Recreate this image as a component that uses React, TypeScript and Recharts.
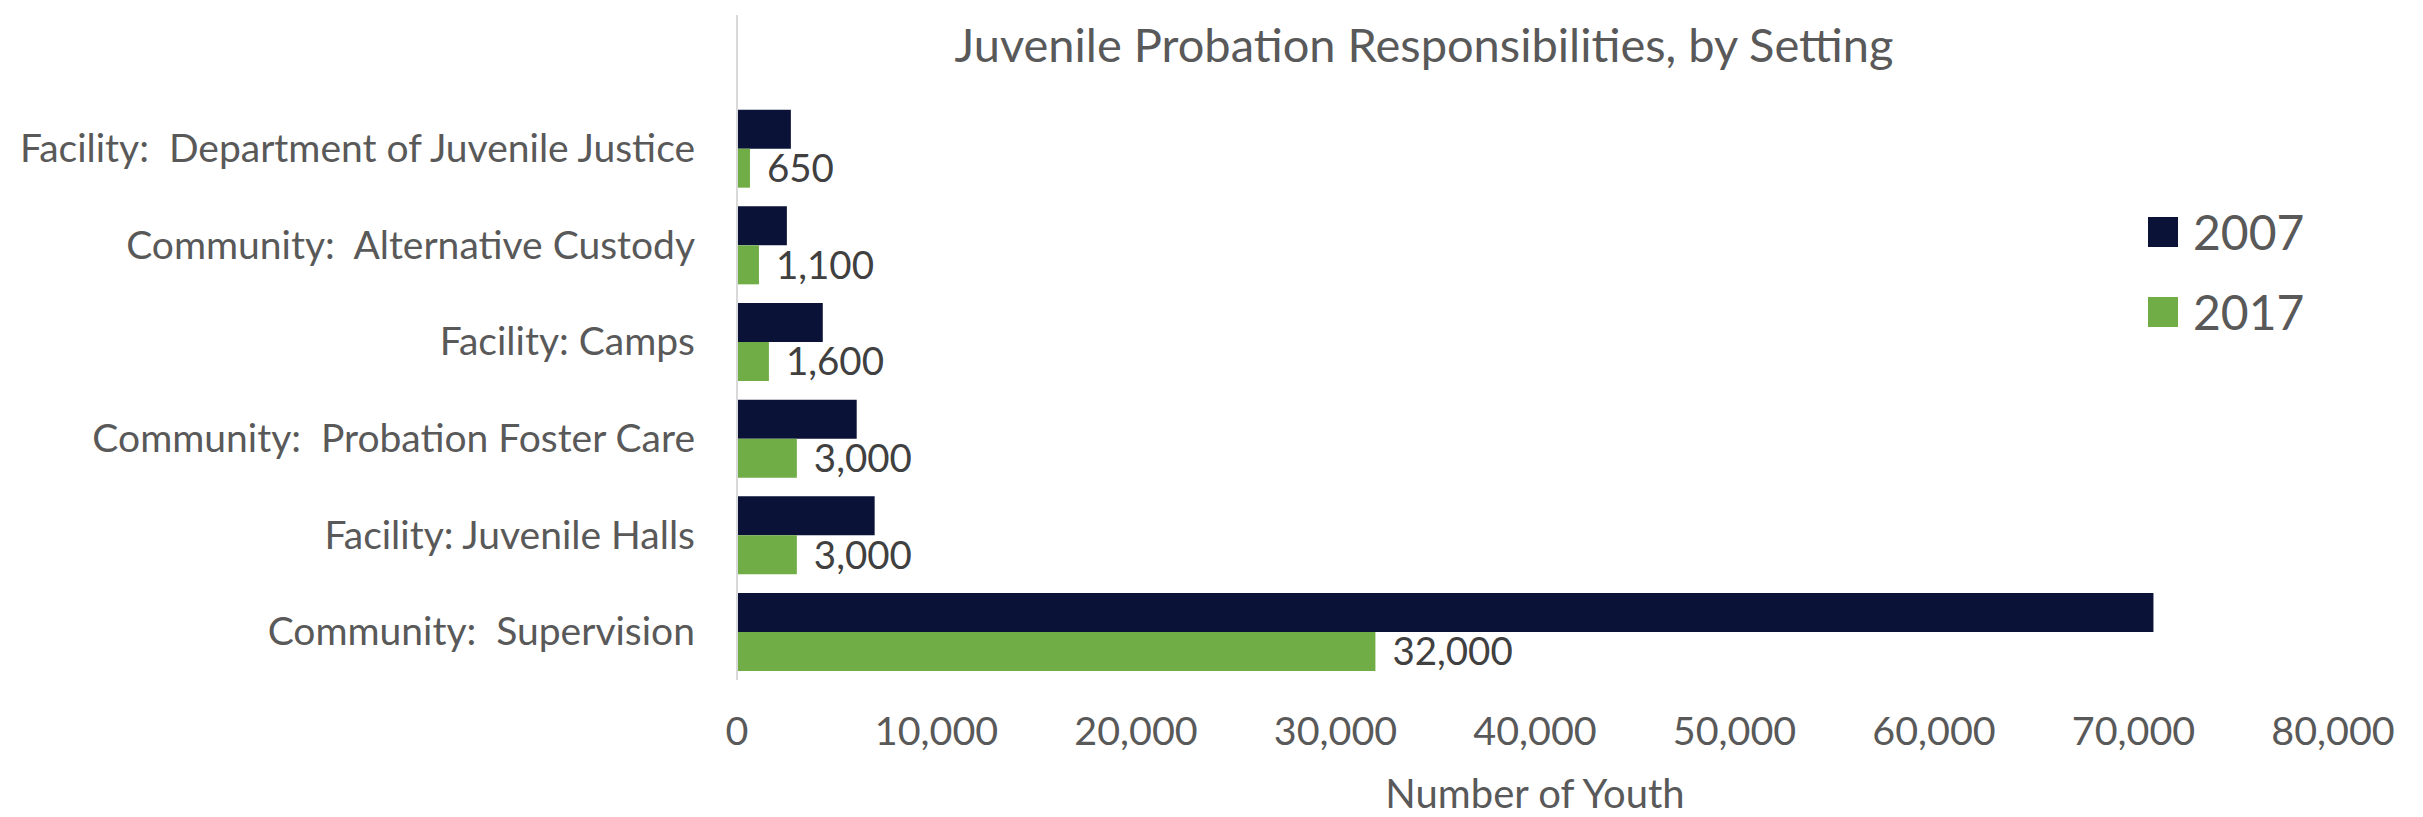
import React from "react";
import { BarChart, Bar, XAxis, YAxis, LabelList } from "recharts";

// values
const categories = [
  "Facility:  Department of Juvenile Justice",
  "Community:  Alternative Custody",
  "Facility: Camps",
  "Community:  Probation Foster Care",
  "Facility: Juvenile Halls",
  "Community:  Supervision",
];
const values2007 = [2700, 2500, 4300, 6000, 6900, 71000];
const values2017 = [650, 1100, 1600, 3000, 3000, 32000];
const xTicks = [0, 10000, 20000, 30000, 40000, 50000, 60000, 70000, 80000];

const series = [
  { key: "y2007", name: "2007", color: "#0B1238" },
  { key: "y2017", name: "2017", color: "#70AD47" },
];

const data = categories.map((label, i) => ({
  label,
  y2007: values2007[i],
  y2017: values2017[i],
}));

const FONT = "Lato, 'Open Sans', sans-serif";
const TEXT = "#595959";

const fmt = (v: number) => v.toLocaleString("en-US");

function CategoryTick(props: any) {
  const { x, y, payload } = props;
  return (
    <text
      x={x - 42}
      y={y}
      dy="0.35em"
      textAnchor="end"
      fill={TEXT}
      fontSize={39}
      fontFamily={FONT}
      style={{ whiteSpace: "pre" }}
    >
      {payload.value}
    </text>
  );
}

export default function App() {
  return (
    <div style={{ position: "absolute", left: 0, top: 0, width: 2423, height: 817, background: "#fff" }}>
      <div
        style={{
          position: "absolute",
          left: 0,
          width: 2848,
          top: 16,
          textAlign: "center",
          fontFamily: FONT,
          fontSize: 47,
          color: TEXT,
          lineHeight: 1.2,
        }}
      >
        Juvenile Probation Responsibilities, by Setting
      </div>
      {/* legend, placed inside the plot like the original */}
      <div style={{ position: "absolute", left: 2148, top: 192, fontFamily: FONT, zIndex: 1 }}>
        {series.map((s) => (
          <div key={s.key} style={{ display: "flex", alignItems: "center", height: 80 }}>
            <div style={{ width: 30, height: 30, background: s.color, marginRight: 15 }} />
            <span style={{ fontSize: 48, color: TEXT, lineHeight: 1 }}>{s.name}</span>
          </div>
        ))}
      </div>
      <BarChart
        width={2423}
        height={817}
        data={data}
        layout="vertical"
        margin={{ top: 15, right: 90, bottom: 0, left: 0 }}
        barGap={0}
        barCategoryGap="10%"
      >
        <XAxis
          type="number"
          domain={[0, 80000]}
          ticks={xTicks}
          tickFormatter={fmt}
          axisLine={false}
          tickLine={false}
          tickSize={0}
          tickMargin={37}
          height={137}
          tick={{ fill: TEXT, fontSize: 39.5, fontFamily: FONT }}
          label={{
            value: "Number of Youth",
            position: "insideBottom",
            offset: 9,
            fill: TEXT,
            fontSize: 40,
            fontFamily: FONT,
          }}
        />
        <YAxis
          type="category"
          dataKey="label"
          width={737}
          padding={{ top: 85, bottom: 0 }}
          axisLine={{ stroke: "#D9D9D9", strokeWidth: 2 }}
          tickLine={false}
          tickSize={0}
          tickMargin={0}
          tick={<CategoryTick />}
          interval={0}
        />
        {series.map((s) => (
          <Bar key={s.key} dataKey={s.key} name={s.name} fill={s.color} isAnimationActive={false}>
            {s.key === "y2017" && (
              <LabelList
                dataKey="y2017"
                position="right"
                offset={17}
                formatter={(v: any) => fmt(Number(v))}
                fill="#404040"
                fontSize={38.5}
                fontFamily={FONT}
              />
            )}
          </Bar>
        ))}
      </BarChart>
    </div>
  );
}
